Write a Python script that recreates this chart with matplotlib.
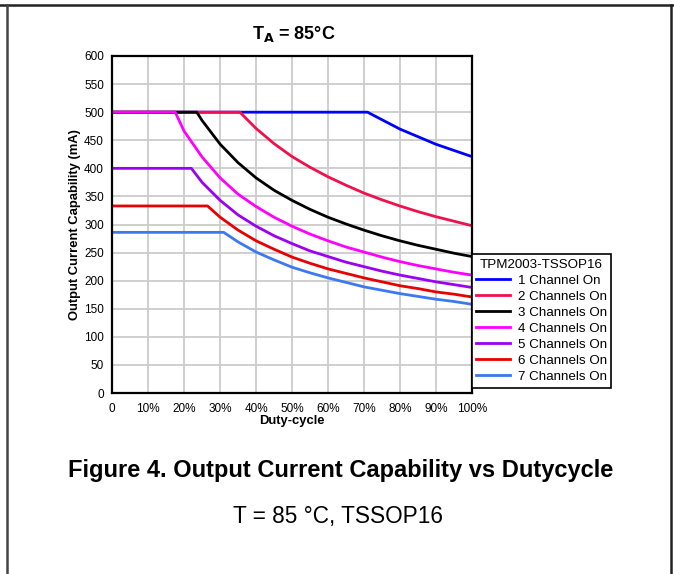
import matplotlib
matplotlib.use("Agg")
import matplotlib.pyplot as plt
from matplotlib.lines import Line2D

plt.rcParams['font.family'] = ['Liberation Sans', 'DejaVu Sans']

# ---- data (duty-cycle %, output current mA) ----
duty_1 = [0, 71, 80, 90, 100]
cur_1 = [500, 500, 470, 443, 421]

duty_2 = [0, 35.5, 40, 45, 50, 55, 60, 65, 70, 75, 80, 85, 90, 95, 100]
cur_2 = [500, 500, 471, 444, 421, 402, 385, 370, 356, 344, 333, 323, 314, 306, 298]

duty_3 = [0, 23.5, 25, 30, 35, 40, 45, 50, 55, 60, 65, 70, 75, 80, 85, 90, 95, 100]
cur_3 = [500, 500, 485, 443, 410, 383, 361, 343, 327, 313, 301, 290, 280, 271, 263, 256, 249, 243]

duty_4 = [0, 17.5, 20, 25, 30, 35, 40, 45, 50, 55, 60, 65, 70, 75, 80, 85, 90, 95, 100]
cur_4 = [500, 500, 466, 420, 383, 354, 332, 313, 297, 283, 271, 260, 251, 242, 234, 227, 221, 215, 210]

duty_5 = [0, 22, 25, 30, 35, 40, 45, 50, 55, 60, 65, 70, 75, 80, 85, 90, 95, 100]
cur_5 = [400, 400, 375, 343, 317, 297, 280, 266, 253, 243, 233, 225, 217, 210, 204, 198, 193, 188]

duty_6 = [0, 26.5, 30, 35, 40, 45, 50, 55, 60, 65, 70, 75, 80, 85, 90, 95, 100]
cur_6 = [333, 333, 313, 290, 271, 256, 242, 231, 221, 213, 205, 198, 191, 186, 180, 176, 171]

duty_7 = [0, 31, 35, 40, 45, 50, 55, 60, 65, 70, 75, 80, 85, 90, 95, 100]
cur_7 = [286, 286, 269, 251, 237, 224, 214, 205, 197, 189, 183, 177, 172, 167, 163, 158]

series_labels = ["1 Channel On", "2 Channels On", "3 Channels On", "4 Channels On",
                 "5 Channels On", "6 Channels On", "7 Channels On"]
series_colors = ["#0000FF", "#F0104C", "#000000", "#FF00FF", "#9B00F0", "#E80000", "#3C78F0"]
series_x = [duty_1, duty_2, duty_3, duty_4, duty_5, duty_6, duty_7]
series_y = [cur_1, cur_2, cur_3, cur_4, cur_5, cur_6, cur_7]

x_ticks = [0, 10, 20, 30, 40, 50, 60, 70, 80, 90, 100]
x_tick_labels = ["0", "10%", "20%", "30%", "40%", "50%", "60%", "70%", "80%", "90%", "100%"]
y_ticks = list(range(0, 601, 50))

W, H = 674, 574
fig = plt.figure(figsize=(W / 100, H / 100), dpi=100)
fig.patch.set_facecolor("white")

ax = fig.add_axes([112.3 / W, 1 - 393 / H, (471.7 - 112.3) / W, (393 - 56) / H])
for xs, ys, c, lab in zip(series_x, series_y, series_colors, series_labels):
    ax.plot(xs, ys, color=c, lw=2.0, label=lab, solid_joinstyle="round")

ax.set_xlim(0, 100)
ax.set_ylim(0, 600)
ax.set_xticks(x_ticks)
ax.set_xticklabels(x_tick_labels)
ax.set_yticks(y_ticks)
ax.tick_params(axis="both", length=0, labelsize=8.5, colors="#000000")
ax.tick_params(axis="x", pad=7)
ax.tick_params(axis="y", pad=6)
ax.grid(True, color="#CCCCCC", lw=1.3)
ax.set_axisbelow(True)
for sp in ax.spines.values():
    sp.set_color("#000000")
    sp.set_linewidth(1.6)

ax.set_xlabel("Duty-cycle", fontsize=9.4, fontweight="bold", labelpad=0)
ax.set_ylabel("Output Current Capability (mA)", fontsize=9.4, fontweight="bold", labelpad=2)

leg = ax.legend(title="TPM2003-TSSOP16", loc="upper left",
                bbox_to_anchor=(1.0, 1 - (254 - 56) / (393 - 56)),
                fontsize=9.6, title_fontsize=9.6, frameon=True, fancybox=False,
                edgecolor="#000000", framealpha=1, borderaxespad=0,
                handlelength=2.5, handletextpad=0.6, labelspacing=0.28,
                borderpad=0.35)
leg.get_frame().set_linewidth(1.2)

fig.text(294 / W, 1 - 34 / H, r"T$_\mathbf{A}$ = 85°C", ha="center", va="center",
         fontsize=13, fontweight="bold")

fig.text(341 / W, 1 - 471 / H, "Figure 4. Output Current Capability vs Dutycycle",
         ha="center", va="center", fontsize=17, fontweight="bold")
fig.text(338 / W, 1 - 516 / H, "T = 85 °C, TSSOP16",
         ha="center", va="center", fontsize=16.3)

# page frame lines
fig.add_artist(Line2D([0, 1], [1 - 4.5 / H, 1 - 4.5 / H], transform=fig.transFigure,
                      color="#222222", lw=1.8))
fig.add_artist(Line2D([7 / W, 7 / W], [0, 1 - 4.5 / H], transform=fig.transFigure,
                      color="#444444", lw=1.8))
fig.add_artist(Line2D([671 / W, 671 / W], [0, 1 - 4.5 / H], transform=fig.transFigure,
                      color="#222222", lw=1.8))

fig.savefig("out.png", dpi=100)
